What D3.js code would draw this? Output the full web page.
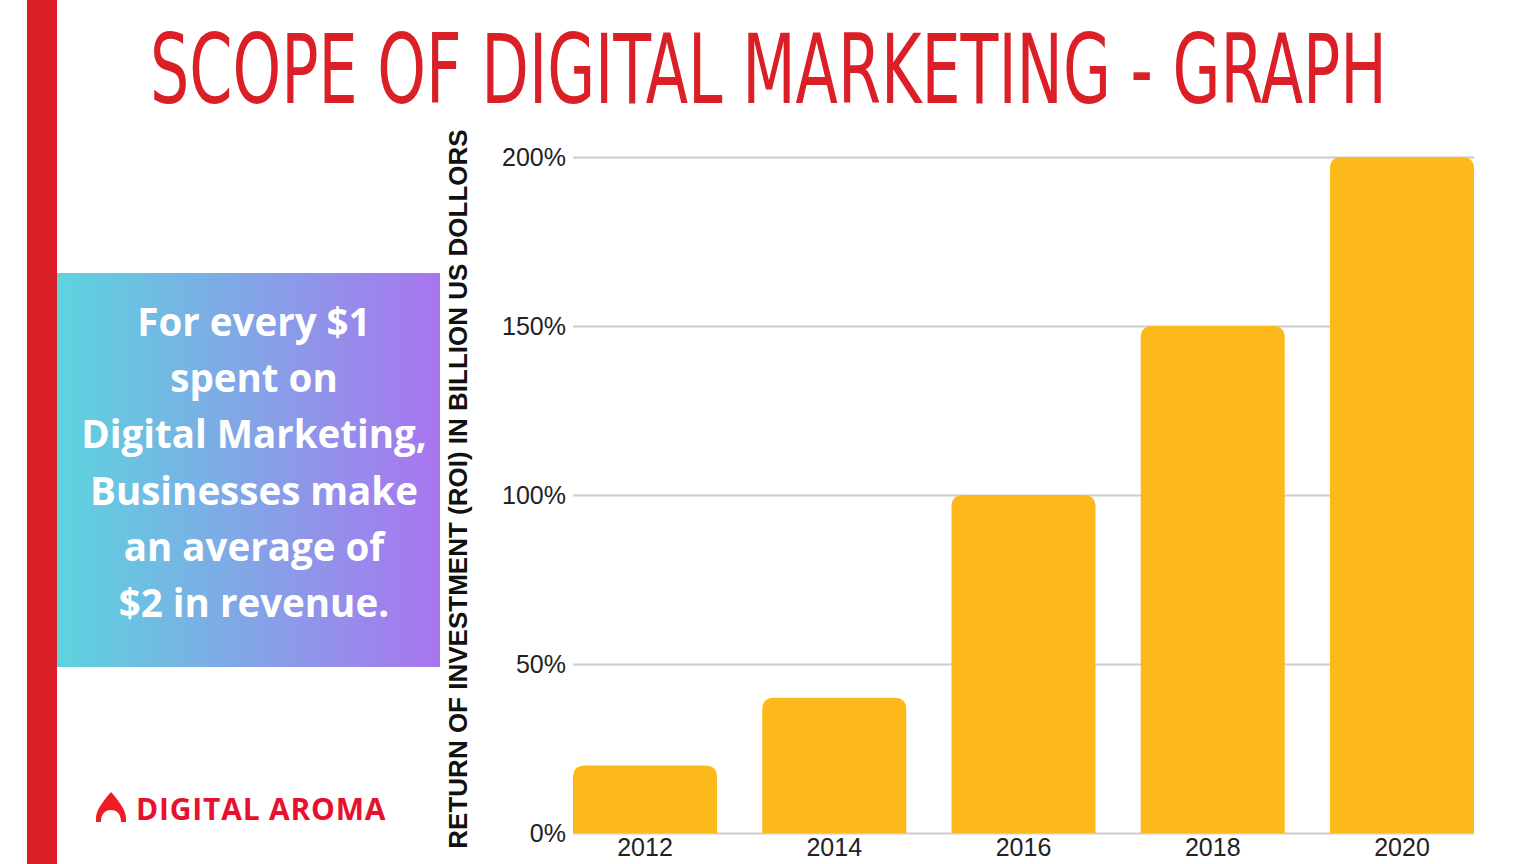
<!DOCTYPE html>
<html><head><meta charset="utf-8">
<script src="https://cdn.jsdelivr.net/npm/d3@7"></script>
<style>html,body{margin:0;padding:0;background:#fff;overflow:hidden}</style>
</head><body>
<svg id="c" width="1536" height="864"></svg>
<script>
const titleText = "SCOPE OF DIGITAL MARKETING - GRAPH";
const categories = ["2012", "2014", "2016", "2018", "2020"];
const values = [20, 40, 100, 150, 200];
const yTicks = [0, 50, 100, 150, 200];
const yLabel = "RETURN OF INVESTMENT (ROI) IN BILLION US DOLLORS";
const boxLines = ["For every $1", "spent on", "Digital Marketing,", "Businesses make", "an average of", "$2 in revenue."];
const brand = "DIGITAL AROMA";

const svg = d3.select("#c");
const defs = svg.append("defs");
const grad = defs.append("linearGradient").attr("id","g1").attr("x1","0").attr("x2","1").attr("y1","0").attr("y2","0");
grad.append("stop").attr("offset","0").attr("stop-color","#5dd4de");
grad.append("stop").attr("offset","1").attr("stop-color","#a875ef");

// red side bar
svg.append("rect").attr("x",27).attr("y",0).attr("width",30).attr("height",864).attr("fill","#da1f27");

// title (scaled horizontally to span the reference width)
const tg = svg.append("g");
const tt = tg.append("text").attr("x",0).attr("y",0)
  .attr("font-family","'Liberation Sans Narrow','DejaVu Sans Condensed',sans-serif")
  .attr("font-size",97).attr("fill","#da1f27").text(titleText);
const tw = tt.node().getComputedTextLength();
tg.attr("transform",`translate(150,103) scale(${1237/tw},1)`);

// gradient box
svg.append("rect").attr("x",57).attr("y",273).attr("width",383).attr("height",394).attr("fill","url(#g1)");
boxLines.forEach((l,i)=>{
  svg.append("text").attr("x",254).attr("y",336+i*56.2).attr("text-anchor","middle")
    .attr("font-family","'Open Sans',Lato,sans-serif").attr("font-weight",700)
    .attr("font-size",38.5).attr("fill","#fff").text(l);
});

// logo
svg.append("path").attr("d","M111,792 C104,800 96,810 96,818 L96,822 L101,822 C101,814 105,810 111,810 C117,810 121,814 121,822 L126,822 L126,818 C126,810 118,800 111,792 Z").attr("fill","#ee1c25");
svg.append("text").attr("x",136).attr("y",820).attr("font-family","'Open Sans',sans-serif").attr("font-weight",700)
  .attr("font-size",30).attr("letter-spacing",0.8).attr("fill","#e8112d").text(brand);

// chart
const x = d3.scaleBand().domain(categories).range([573,1474]).paddingInner(0.239).paddingOuter(0);
const y = d3.scaleLinear().domain([0,200]).range([833,157]);

const gy = svg.append("g").attr("transform","translate(573,0)")
  .call(d3.axisLeft(y).tickValues(yTicks).tickFormat(d=>d+"%").tickSize(-901).tickPadding(7));
gy.select(".domain").remove();
gy.selectAll(".tick line").attr("stroke","#cccccc").attr("stroke-width",2);
gy.selectAll(".tick text").attr("font-family","'Liberation Sans',Arial,sans-serif").attr("font-size",25).attr("fill","#222").attr("dy","0.35em");

const r = 12;
svg.append("g").selectAll("path").data(values).join("path")
  .attr("fill","#fdb81a")
  .attr("d",(d,i)=>{
    const x0 = x(categories[i]), w = x.bandwidth(), y0 = y(d), y1 = y(0);
    return `M${x0},${y1} L${x0},${y0+r} Q${x0},${y0} ${x0+r},${y0} L${x0+w-r},${y0} Q${x0+w},${y0} ${x0+w},${y0+r} L${x0+w},${y1} Z`;
  });

const gx = svg.append("g").attr("transform","translate(0,833)")
  .call(d3.axisBottom(x).tickSize(0).tickPadding(5));
gx.select(".domain").remove();
gx.selectAll(".tick text").attr("font-family","'Liberation Sans',Arial,sans-serif").attr("font-size",25).attr("fill","#222");

// y label
svg.append("text").attr("transform","translate(467,489) rotate(-90)").attr("text-anchor","middle")
  .attr("font-family","'Liberation Sans',Arial,sans-serif").attr("font-weight",700).attr("font-size",26)
  .attr("fill","#111").text(yLabel);
</script>
</body></html>
